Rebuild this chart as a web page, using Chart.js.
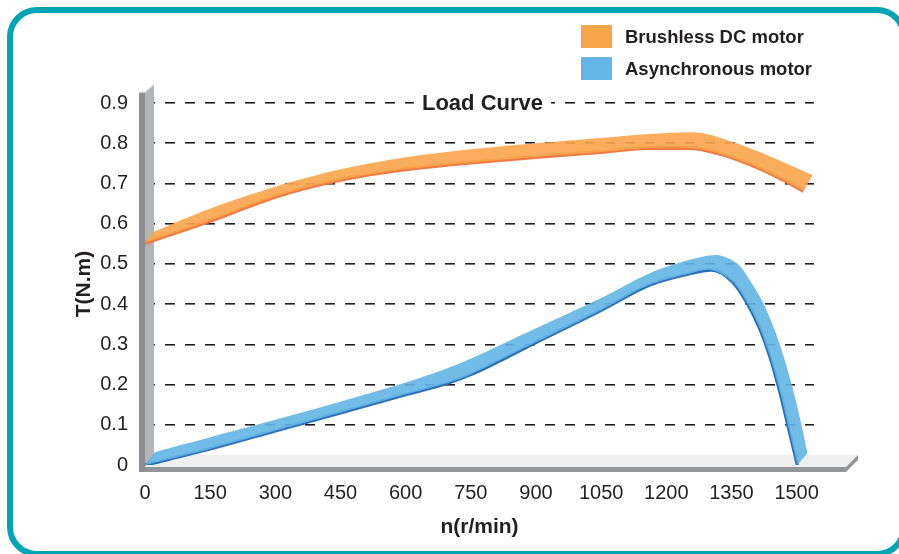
<!DOCTYPE html>
<html>
<head>
<meta charset="utf-8">
<script src="https://cdn.jsdelivr.net/npm/chart.js@4.4.1/dist/chart.umd.min.js"></script>
<style>
  html, body { margin: 0; padding: 0; background: #fff; }
  #wrap { position: relative; width: 899px; height: 554px; overflow: hidden; font-family: "Liberation Sans", Arial, sans-serif; }
  #frame { position: absolute; left: 7px; top: 7px; width: 900px; height: 550px; box-sizing: border-box;
           border: 6px solid #00a5b5; border-radius: 30px; }
  #chart { position: absolute; left: 0; top: 0; }
  .leg { position: absolute; left: 581px; height: 23px; line-height: 23px; font-weight: bold; font-size: 18.5px; color: #231f20; }
  .leg span { display: inline-block; width: 31px; height: 23px; vertical-align: top; margin-right: 13px; }
</style>
</head>
<body>
<div id="wrap">
  <div id="frame"></div>
  <canvas id="chart" width="899" height="554"></canvas>
  <div class="leg" style="top:25px"><span style="background:#f9a54b"></span>Brushless DC motor</div>
  <div class="leg" style="top:57px"><span style="background:#63b6e6"></span>Asynchronous motor</div>
</div>
<script>
// torque readings, lower (front) edge of each ribbon
const dcEdgeSpeed = [0, 150, 300, 450, 600, 750, 900, 1050, 1162, 1254, 1316, 1392, 1468, 1516];
const dcEdgeTorque = [0.552, 0.607, 0.667, 0.709, 0.735, 0.752, 0.766, 0.778, 0.788, 0.788, 0.776, 0.748, 0.71, 0.681];
// upper edge of the ribbon face
const dcTopSpeed = [18, 150, 300, 450, 600, 750, 900, 1050, 1162, 1277, 1353, 1431, 1537];
const dcTopTorque = [0.579, 0.638, 0.692, 0.735, 0.765, 0.785, 0.8, 0.813, 0.823, 0.826, 0.803, 0.771, 0.721];

const asyncEdgeSpeed = [0, 150, 300, 450, 600, 700, 750, 900, 1050, 1162, 1250, 1304, 1353, 1385, 1415, 1440, 1462, 1482, 1502];
const asyncEdgeTorque = [0, 0.04, 0.085, 0.13, 0.175, 0.205, 0.225, 0.305, 0.385, 0.448, 0.475, 0.485, 0.455, 0.405, 0.34, 0.265, 0.18, 0.09, 0];
const asyncTopSpeed = [23, 357, 449, 600, 725, 900, 1050, 1162, 1254, 1316, 1362, 1392, 1422, 1448, 1470, 1490, 1508, 1525];
const asyncTopTorque = [0.032, 0.129, 0.157, 0.205, 0.253, 0.34, 0.415, 0.477, 0.51, 0.522, 0.502, 0.46, 0.405, 0.34, 0.27, 0.195, 0.115, 0.03];

const seriesNames = ['Brushless DC motor', 'Asynchronous motor'];
const chartTitle = 'Load Curve';
const xTitle = 'n(r/min)';
const yTitle = 'T(N.m)';

const pts = (xs, ys) => xs.map((x, i) => ({ x: x, y: ys[i] }));
// closed ribbon: along the lower edge, back along the upper edge
// (corner points doubled so the spline keeps the ends square)
const ribbon = (ex, ey, tx, ty) => {
  const low = pts(ex, ey);
  const up = pts(tx, ty).reverse();
  return low.concat([{ ...low[low.length - 1] }, { ...up[0] }], up);
};

const FONT = '"Liberation Sans", Arial, sans-serif';
const INK = '#231f20';

// 3D wall / floor and the title sitting on the top grid line
const decor = {
  id: 'decor',
  beforeDatasetsDraw(chart) {
    const { ctx, chartArea: a } = chart;
    const L = a.left, B = a.bottom, T = a.top;
    ctx.save();
    // floor top face
    ctx.fillStyle = '#eeeeef';
    ctx.beginPath();
    ctx.moveTo(L, B + 2); ctx.lineTo(L + 12, B - 10);
    ctx.lineTo(a.right + 44, B - 10); ctx.lineTo(a.right + 32, B + 2);
    ctx.closePath(); ctx.fill();
    // floor front + end
    ctx.fillStyle = '#939598';
    ctx.fillRect(L - 6, B + 2, a.right + 32 - L + 6, 5);
    ctx.beginPath();
    ctx.moveTo(a.right + 32, B + 2); ctx.lineTo(a.right + 44, B - 10);
    ctx.lineTo(a.right + 44, B - 5); ctx.lineTo(a.right + 32, B + 7);
    ctx.closePath(); ctx.fill();
    // wall front
    ctx.fillStyle = '#8d8f92';
    ctx.fillRect(L - 6, T - 11, 6, B - T + 18);
    // wall side
    ctx.fillStyle = '#b2b4b7';
    ctx.beginPath();
    ctx.moveTo(L, T - 11); ctx.lineTo(L + 9, T - 19);
    ctx.lineTo(L + 9, B - 8); ctx.lineTo(L, B + 2);
    ctx.closePath(); ctx.fill();
    ctx.strokeStyle = '#e6e7e8'; ctx.lineWidth = 1.5;
    ctx.beginPath(); ctx.moveTo(L - 6, T - 11); ctx.lineTo(L, T - 11); ctx.lineTo(L + 9, T - 19); ctx.stroke();
    ctx.restore();
  },
  afterDraw(chart) {
    const { ctx, chartArea: a, scales } = chart;
    const y = scales.y.getPixelForValue(0.9);
    const cx = (a.left + a.right) / 2 + 3;
    ctx.save();
    ctx.font = 'bold 22px ' + FONT;
    const w = ctx.measureText(chartTitle).width;
    ctx.fillStyle = '#fff';
    ctx.fillRect(cx - w / 2 - 8, y - 12, w + 16, 24);
    ctx.fillStyle = INK;
    ctx.textAlign = 'center';
    ctx.textBaseline = 'middle';
    ctx.fillText(chartTitle, cx, y + 1);
    ctx.restore();
  }
};

new Chart(document.getElementById('chart').getContext('2d'), {
  type: 'line',
  data: {
    datasets: [
      {
        label: seriesNames[0] + ' face',
        data: ribbon(dcEdgeSpeed, dcEdgeTorque, dcTopSpeed, dcTopTorque),
        backgroundColor: 'rgba(249,165,75,0.9)',
        borderWidth: 0, pointRadius: 0, tension: 0.3, fill: 'shape'
      },
      {
        label: seriesNames[0],
        data: pts(dcEdgeSpeed, dcEdgeTorque),
        borderColor: '#f07c45', borderWidth: 4, pointRadius: 0, cubicInterpolationMode: 'monotone', fill: false
      },
      {
        label: seriesNames[1] + ' face',
        data: ribbon(asyncEdgeSpeed, asyncEdgeTorque, asyncTopSpeed, asyncTopTorque),
        backgroundColor: 'rgba(99,182,230,0.9)',
        borderWidth: 0, pointRadius: 0, tension: 0.3, fill: 'shape'
      },
      {
        label: seriesNames[1],
        data: pts(asyncEdgeSpeed, asyncEdgeTorque),
        borderColor: '#2a70b8', borderWidth: 3.5, pointRadius: 0, cubicInterpolationMode: 'monotone', fill: false
      }
    ]
  },
  options: {
    responsive: false,
    animation: false,
    parsing: false,
    layout: { padding: { top: 103, right: 85, left: 0, bottom: 0 } },
    plugins: { legend: { display: false }, tooltip: { enabled: false } },
    scales: {
      x: {
        type: 'linear', min: 0, max: 1540,
        grid: { display: false },
        border: { display: false },
        ticks: { stepSize: 150, includeBounds: false, padding: 8, color: INK, font: { family: FONT, size: 20 },
                 callback: v => String(v) },
        title: { display: true, text: xTitle, color: INK, padding: { top: 0, bottom: 14 }, font: { family: FONT, size: 21, weight: 'bold' } },
        afterFit: s => { s.height = 89; }
      },
      y: {
        min: 0, max: 0.9,
        grid: {
          drawTicks: false,
          color: c => c.tick && c.tick.value === 0 ? 'rgba(0,0,0,0)' : INK,
          lineWidth: 1.6
        },
        border: { display: false, dash: [10, 10] },
        ticks: { stepSize: 0.1, padding: 17, color: INK, font: { family: FONT, size: 20 } },
        title: { display: true, text: yTitle, color: INK, padding: { top: 72, bottom: 0 }, font: { family: FONT, size: 21, weight: 'bold' } },
        afterFit: s => { s.width = 145; }
      }
    }
  },
  plugins: [decor]
});
</script>
</body>
</html>
